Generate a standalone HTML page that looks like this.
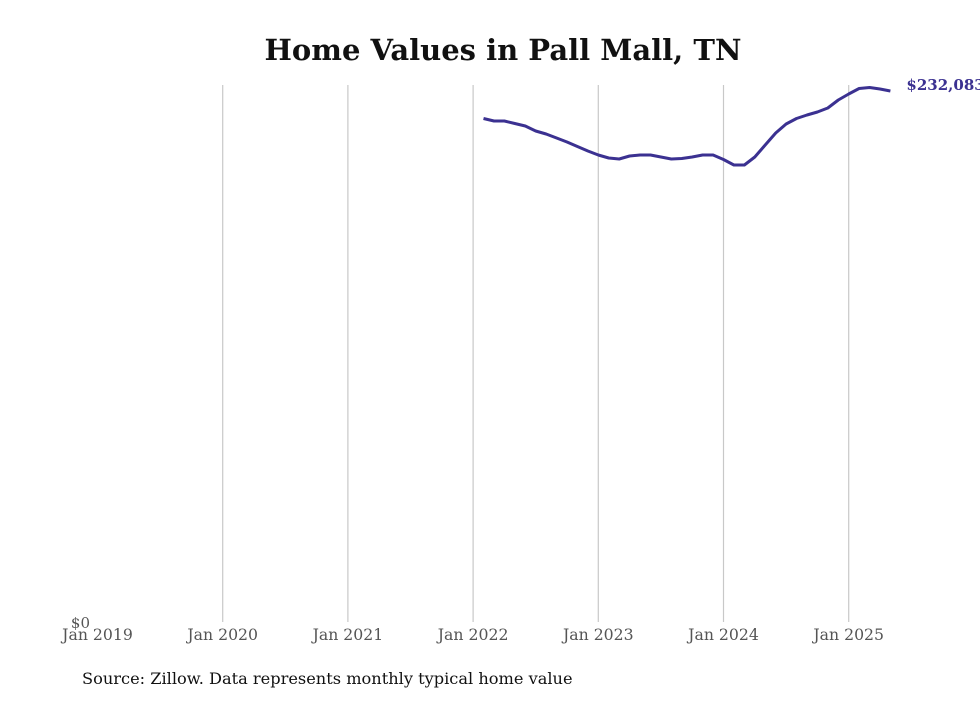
<!DOCTYPE html>
<html><head><meta charset="utf-8"><style>
body{margin:0;background:#fff;}
svg text{font-family:"DejaVu Serif","Liberation Serif",serif;}
</style></head><body>
<svg width="980" height="699">
<text x="503" y="60" text-anchor="middle" font-size="29" font-weight="bold" fill="#111">Home Values in Pall Mall, TN</text>
<g id="grid"></g>
<g id="xlabels"></g>
<text x="90" y="628" text-anchor="end" font-size="15" fill="#555">$0</text>
<path id="line" fill="none" stroke="#3b3191" stroke-width="3" stroke-linejoin="round"></path>
<text id="endlabel" font-size="15" font-weight="bold" fill="#3b3191"></text>
<text x="82" y="684" font-size="16.2" fill="#111">Source: Zillow. Data represents monthly typical home value</text>
</svg>
<script>
const tickYears=[2019,2020,2021,2022,2023,2024,2025];
const startYear=2022, startMonth=1; // Feb 2022 (0-based month)
const values=[220065,218970,218970,217880,216787,214600,213290,211540,209790,207825,205860,204110,202800,202360,203670,204110,204110,203240,202360,202580,203240,204110,204110,202140,199740,199740,203240,208480,213730,217660,220065,221590,222900,224650,228150,230770,233180,233610,232960,232083];
const endLabel="$232,083";
const ns="http://www.w3.org/2000/svg";
const x0=97.5, pxYear=125.2, y0=622, yTop=91, vTop=232083;
const xs=t=>x0+(t-2019)*pxYear;
const ys=v=>y0-(v/vTop)*(y0-yTop);
const grid=document.getElementById('grid'), xl=document.getElementById('xlabels');
tickYears.forEach((yr,i)=>{
  if(i>0){const l=document.createElementNS(ns,'line');
  l.setAttribute('x1',xs(yr));l.setAttribute('x2',xs(yr));l.setAttribute('y1',85);l.setAttribute('y2',y0);
  l.setAttribute('stroke','#c8c8c8');l.setAttribute('stroke-width','1.2');
  
  
  grid.appendChild(l);}
  const t=document.createElementNS(ns,'text');
  t.setAttribute('x',xs(yr));t.setAttribute('y',640);t.setAttribute('text-anchor','middle');
  t.setAttribute('font-size','15.7');t.setAttribute('fill','#555');t.textContent='Jan '+yr;
  
  
  xl.appendChild(t);
});
let d='';
values.forEach((v,i)=>{const t=startYear+(startMonth+i)/12;d+=(i?'L':'M')+xs(t).toFixed(1)+' '+ys(v).toFixed(1);});
document.getElementById('line').setAttribute('d',d);
const last=values.length-1, lt=startYear+(startMonth+last)/12;
const el=document.getElementById('endlabel');
el.setAttribute('x',xs(lt)+16);el.setAttribute('y',ys(values[last])-1);el.textContent=endLabel;
</script>
</body></html>
